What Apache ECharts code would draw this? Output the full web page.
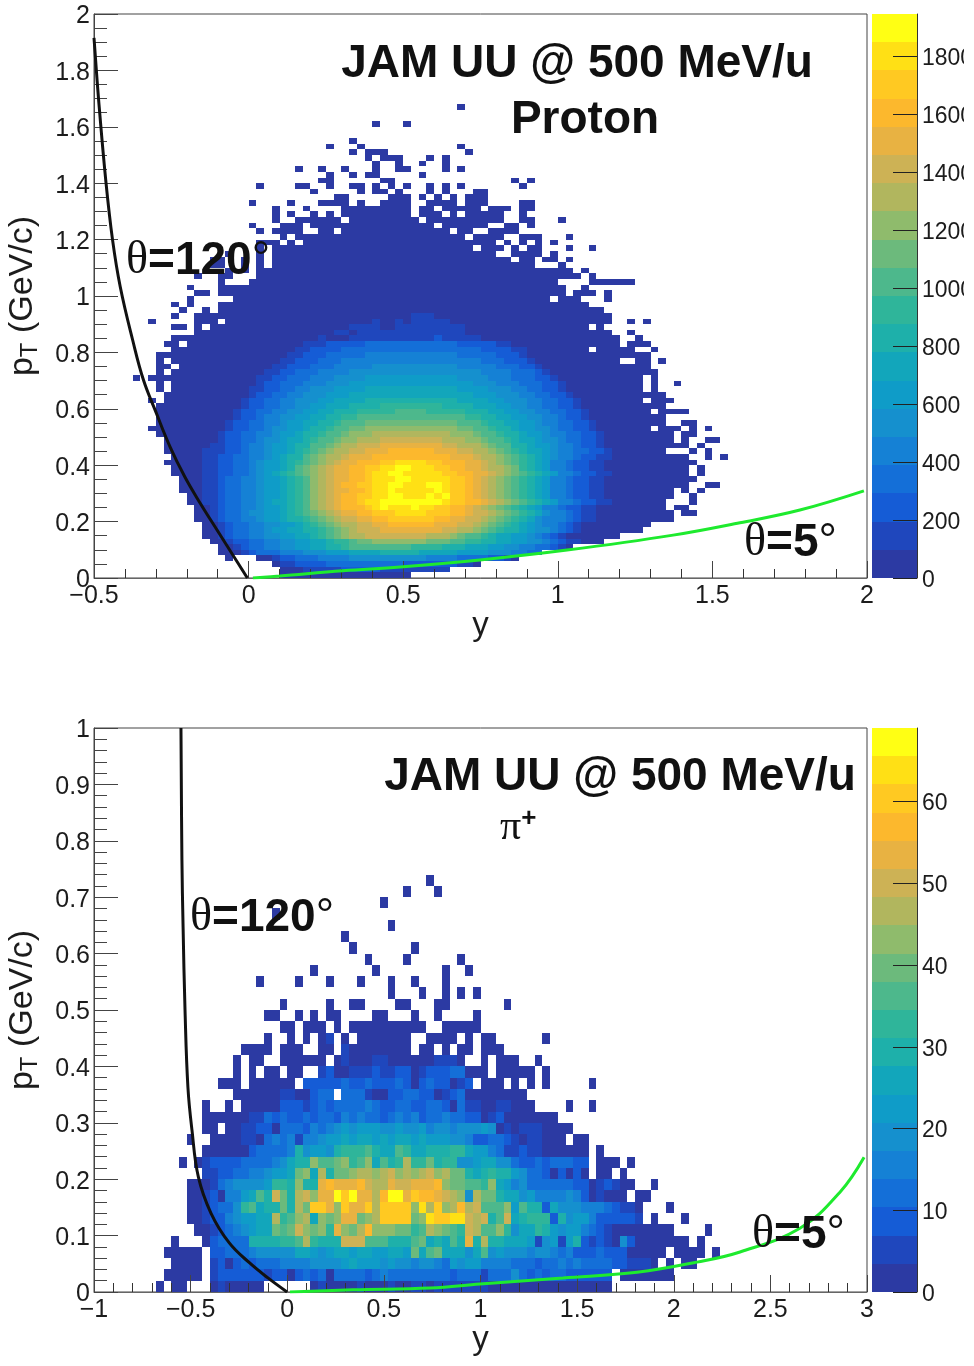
<!DOCTYPE html>
<html>
<head>
<meta charset="utf-8">
<title>JAM UU @ 500 MeV/u</title>
<script src="https://cdn.jsdelivr.net/npm/echarts@6/dist/echarts.min.js"></script>
<style>
html,body{margin:0;padding:0;background:#fff;}
#chart{width:964px;height:1366px;overflow:hidden;}
</style>
</head>
<body>
<div id="chart"></div>
<script>
// Colour bands of the z scale, lowest first (twenty contours).
const bandColors = ['#2c3aa3','#1f47bd','#155cd6','#146fd8','#1581d5','#1590ce','#0f9cc8','#12a6bb','#1eb0aa','#2fb59a',
  '#4db88c','#6cba7c','#8fbb6c','#b1b65e','#cdb255','#e8b242','#fcb82d','#ffc922','#ffe015','#ffff14'];

const protonZMax = 1945, pionZMax = 69;
const protonZTicks = [0,200,400,600,800,1000,1200,1400,1600,1800];
const pionZTicks = [0,10,20,30,40,50,60];

// One string per pT bin, lowest bin first. "a-b" = occupied bins of the lowest band,
// "c:xyz" = band numbers (base 20) of successive y bins starting at bin c.
const protonRows = [
"24-40",
"24-45 27:11111222221111111111",
"23-49 24:1122223333333333222222211",
"17 21-54 23:1223334444555555555544443333221",
"16-57 19:12333444555666777788888777776666555443321",
"16-61 18:123344556677889aaaaaaaa99998887776655443321",
"15-65 17:1223344556677899abbcccccccbbbaa998877665543211",
"14-67 16:12334455667789abcddeeeeeeeedddcbaa98776654321",
"14-70 16:12334456677889abcdeeeffffffffeeddcba98876554321",
"14-71 16:1233445566789abcddeeffggggggfffeedcba9876544321",
"13-74 15:1233445667889abcdeeffgghhhhhhggffeedcba98754443211",
"13-74 76-77 15:123345566789abcdeffgghhhiiiihhhggfeedcba9875443211",
"13-73 75-76 15:123344566789acdefggghijiiijiihhggfedcba98764432211",
"12-73 77 14:1123344567789acdefgghiijjjjjjjjihhggfedcba98764432211",
"12-74 77 14:1123344566789acdefgghhiijjiiijijhhgfedcba98764432211",
"11-74 76 78 14:1123344566789acdeffgghiijiiiiijihhgfedcba98764432211",
"11-76 79-80 14:1123344566789acdefgghhiijjiiijjihhgfedcba98764432211",
"11-77 14:1123344566789acdeffgghiiijjiiiiihhgfedcba98764432211",
"10-76 78 14:112233456789abcdeffgghiijjiiiiihhggffedcba98764432211",
"10-76 78 14:112233456678abcdeffgghhiijjiiihhggffeddcb98764432211",
"9-77 14:1122334566789abcdeffggghhiiiihhgggffedcba98764432211",
"10-76 79 81 14:1122334456788abcddefffggggggggggfffeddcba987654432211",
"9-73 77 79 14:11122344566789abcddeefffggggggfffeeddcba9877654433221",
"9-76 78 15:1122344566788aabcddeeeffffffffeedddcbaa887665443221",
"9-74 76 79-80 16:1223345567789aabccdddeeeeeeeedddccbaa9877655433221",
"8-74 76-77 16:12233445667889aabcccddddddddddcccbaa98876654433221",
"7-71 73-75 77 79 17:12233455667889aabbccccccccccccbbaa98876655433221",
"8-73 76-77 17:122334456677889aaabbbbbbbbbbbbaaa988776654433221",
"8-73 18:1223445566778899aaaaaaaaaaaaaa9988776655443221",
"8-71 73-76 18:122334455667788899999aaaa999998887766554433221",
"8-73 19:12233445566777888899999999888877766554433221",
"7 9-70 72-74 19:12233445556677778888888888887777665554433221",
"9-73 20:122334455566677777777777777776665554433221",
"8 10-70 72 20:11223344555666677777777777766665554433221",
"8 10-70 72 75 21:1223334445556666666666666666555444333221",
"5 7-70 72 21:112233344455556666666666665555444333221",
"8 10-72 22:1122333444455555555555555555444433321",
"8-9 11-71 23:11222333444445555555555544444333221",
"8 10-67 70-71 73 24:112223334444444444444444443332221",
"8-71 25:1122233333444444444444333332221",
"10-63 65-69 72 26:112222333333333333333333222211",
"9-10 12-67 69-71 27:111222223333333333332222211",
"10-67 70 29:1 33:11111111111211111",
"13-66 69 31:11 34:11111111111111",
"10-11 13 15-63 65 33:1111 39:111111111",
"7 13-15 17-66 69 71 36:1 39:1 41:11111",
"10 13-66 41:111",
"11 14 16-65",
"10 12 16-63",
"12 18-58 60-62 66",
"13-14 16-60 62-64 66",
"12 16-60 63",
"16 20-59 64-69",
"13 16-17 21-62 64",
"17 19 21-61 63",
"15-16 19 21 23-56 60",
"15-16 19 21 23-53 55-56 58-59 61",
"17 21 23-51 54-57 59",
"21 23-48 50-52 54 56-57 61 64",
"21-23 25 27-51 53 55 57 59",
"24 26-47 49-52 55-57 61",
"21 23-26 29-30 32-45 47-48 51-54",
"20 24-26 28-43 45-50 53-54 56",
"23 26-31 33-41 43-52 55-56 60",
"23 25 28 30 32-40 42-44 46 48-52 55",
"23 27 32-40 42-43 45-49 51-53 55-56",
"20 25 29-32 34 37-40 43-46 48-50 55-56",
"31-32 38-40 42 44 46 48-50",
"28 34 36-37 39 43 45 49-50",
"21 26-27 30 33-34 36 38 40 43 45 47 55",
"29-30 37-38 54 56",
"30 33 35-36 42",
"26 29 32 36 39-40 45 47",
"36 39 42 45",
"35 37-39 43 45",
"33 35-37 48",
"30 34 47",
"33",
"",
"",
"36 40",
"",
"",
"47"
];

const pionRows = [
"8 10-11 15-21 28-66 15:0100000 28:0100001000100110 44:1111111",
"9-13 15-66 68-74 15:1222222122023230333323433333333233313335323233222222",
"10-13 15-72 74 76-77 15:1202323334444555567666565545543656644443332334343333221110",
"9-13 15-73 75-78 80 15:22333455555776567767766776b7ab77757a56555455434222322200000",
"10 14-76 78 15:23333888899ad9888eeeaaa888ab787a8f8d88777615616821210520",
"13-74 79 13:0012345677babecbc9fcbdgcccbb9adcba9edaac9577986566432100000000",
"12-70 72 76 12:00122456677d9acd7cbcffbcdhhhhbcihhiiede8ae78999285664222221",
"12-70 74 12:00123359a788b8dbhhfchffhdhhhhcidhcdgdeaaac6a882755544432110",
"12-68 70-71 12:001204467a8eb8decffjhjffdgjjfhggfedc5dbb877564444542010000",
"12-69 72 12:00013455556998c88fgfffgeddfeefffgcbbaa9c764533333322012100",
"14-63 65-66 68 14:112233445667bc7d8bbcddcdecdcdecdbb8789886533202020",
"11 13-63 65-67 69 13:012222333345788caabc9ac7a89d99b89955677553223233322",
"14-63 65 14:000000233334856658999a877a977888997664311211000000",
"12 15-60 62-63 15:0000110343414456676776767767666554223321011000",
"14-15 17-61 17:00112203332434565666556556455455565010111",
"14-59 20:113232232332434332343423343322012",
"14 17 19-56 61 64 22:00222123233334322332233203110011",
"18-30 32-55 24:110023333331002233220123",
"16-18 20-25 27-48 50-52 54 56 58 64 27:2222232232223202322012",
"18 20 22-23 25-26 29-50 52-56 58 29:1200111211220122233",
"18 20-21 24-29 31-47 50 52-54 57 32:1 36:11 44:111",
"19-22 24-26 29-30 32-40 42-43 45 47-48 50-52 32:1",
"22 25 27 29-30 32 34-40 43-46 48 50-51 58 30:1",
"24-25 27-29 31 33-42 45-49",
"22-23 26 28 30-31 36-37 41 44 49",
"24 30 33-34 39-40 44-45 53",
"38 42 45 47 49",
"21 26 30 34 38 41 45",
"28 36 45 48",
"35 40 47",
"33 41",
"32",
"38",
"23",
"37",
"40 44",
"43"
];

// Kinematic limits: [y, pT].
const protonTheta120 = [[-0.5,1.915],[-0.485,1.695],[-0.462,1.411],[-0.44,1.199],[-0.415,1.032],[-0.375,0.844],[-0.34,0.702],[-0.3,0.589],[-0.254,0.465],[-0.206,0.358],[-0.157,0.266],[-0.102,0.17],[-0.05,0.08],[-0.004,0]];
const protonTheta5 = [[0.014,0],[0.1,0.007],[0.305,0.026],[0.49,0.039],[0.748,0.064],[1.03,0.099],[1.373,0.152],[1.589,0.196],[1.783,0.241],[1.99,0.309]];
const pionTheta120 = [[-0.55,1],[-0.545,0.766],[-0.539,0.647],[-0.529,0.5],[-0.514,0.363],[-0.493,0.287],[-0.46,0.204],[-0.395,0.14],[-0.3,0.087],[-0.193,0.051],[-0.1,0.025],[-0.001,0]];
const pionTheta5 = [[0.014,0],[0.34,0.004],[0.739,0.007],[0.997,0.014],[1.427,0.025],[1.81,0.035],[2.12,0.053],[2.343,0.071],[2.653,0.113],[2.86,0.177],[2.985,0.239]];

// Expands the row strings into [yLow, pTLow, count, band] cells; holes stay empty.
function decodeRows(rows, yStart, yBin, ptBin, zMax) {
  const zBand = zMax / bandColors.length, cells = [];
  rows.forEach((row, j) => {
    const occupied = new Map();
    const tokens = row.split(' ').filter(Boolean);
    tokens.filter(t => !t.includes(':')).forEach(tok => {
      const [a, b] = tok.split('-').map(Number);
      for (let c = a; c <= (b === undefined ? a : b); c++) occupied.set(c, 0);
    });
    tokens.filter(t => t.includes(':')).forEach(tok => {
      const [start, run] = tok.split(':');
      [...run].forEach((ch, i) => {
        const c = +start + i;
        if (occupied.has(c)) occupied.set(c, parseInt(ch, 20));
      });
    });
    occupied.forEach((band, c) => cells.push([yStart + c * yBin, j * ptBin, (band + 0.5) * zBand, band]));
  });
  return cells;
}

const protonCells = decodeRows(protonRows, -0.5, 0.025, 0.02, protonZMax);
const pionCells = decodeRows(pionRows, -1, 0.04, 0.02, pionZMax);

function histSeries(gridIndex, cells, dx, dy) {
  return {
    type: 'custom', xAxisIndex: gridIndex, yAxisIndex: gridIndex, data: cells, silent: true,
    encode: {x: 0, y: 1}, clip: true, z: 2,
    renderItem(params, api) {
      const a = api.coord([api.value(0), api.value(1)]);
      const b = api.coord([api.value(0) + dx, api.value(1) + dy]);
      const x0 = Math.round(a[0]), x1 = Math.round(b[0]), y0 = Math.round(b[1]), y1 = Math.round(a[1]);
      return {type: 'rect', shape: {x: x0, y: y0, width: x1 - x0, height: y1 - y0},
        style: {fill: bandColors[api.value(3)]}};
    }
  };
}

function scaleSeries(gridIndex, zMax) {
  const step = zMax / bandColors.length;
  return {
    type: 'custom', xAxisIndex: gridIndex, yAxisIndex: gridIndex, silent: true, z: 1,
    data: bandColors.map((_, i) => [i * step, (i + 1) * step, i]), encode: {y: [0, 1]},
    renderItem(params, api) {
      const a = api.coord([0, api.value(0)]), b = api.coord([1, api.value(1)]);
      const y0 = Math.round(b[1]), y1 = Math.round(a[1]);
      return {type: 'rect', shape: {x: a[0], y: y0, width: b[0] - a[0], height: y1 - y0},
        style: {fill: bandColors[api.value(2)]}};
    }
  };
}

function curve(gridIndex, pts, color) {
  return {type: 'line', xAxisIndex: gridIndex, yAxisIndex: gridIndex, data: pts, smooth: 0.4, showSymbol: false,
    silent: true, z: 5, lineStyle: {color, width: 3}};
}

const sans = '"Liberation Sans", Arial, sans-serif';
const serif = '"Liberation Serif", serif';
const inkColor = '#1c1c1c';
const minus = v => String(v).replace('-', '\u2212');
const loweredLabel = fontSize => ({
  formatter: v => `{v|${v}}`,
  rich: {v: {fontFamily: sans, fontSize, color: inkColor, padding: [5, 0, 0, 0]}}
});

function xAxis(gridIndex, min, max) {
  return {type: 'value', gridIndex, min, max, interval: 0.5, z: 3, name: 'y', nameLocation: 'middle', nameGap: 31, nameMoveOverlap: false,
    nameTextStyle: {fontFamily: sans, fontSize: 33, color: inkColor},
    axisLine: {onZero: false, lineStyle: {color: '#666', width: 1}},
    axisTick: {inside: true, length: 17, lineStyle: {color: '#444'}},
    minorTick: {show: true, splitNumber: 5, length: 9, lineStyle: {color: '#333'}},
    axisLabel: {fontFamily: sans, fontSize: 25, color: inkColor, margin: 6, formatter: minus, hideOverlap: false},
    splitLine: {show: false}, minorSplitLine: {show: false}};
}
function yAxis(gridIndex, max, interval, minor) {
  return {type: 'value', gridIndex, min: 0, max, interval, z: 3,
    name: '{p|p}{s|T}{p| (GeV/c)}', nameLocation: 'middle', nameGap: 52, nameRotate: 90, nameMoveOverlap: false,
    nameTextStyle: {rich: {
      p: {fontFamily: sans, fontSize: 34, color: inkColor},
      s: {fontFamily: sans, fontSize: 24, color: inkColor, padding: [14, 0, 0, 0]}}},
    axisLine: {onZero: false, lineStyle: {color: '#444', width: 1}},
    axisTick: {inside: true, length: 24, lineStyle: {color: '#444'}},
    minorTick: {show: true, splitNumber: minor, length: 13, lineStyle: {color: '#444'}},
    axisLabel: {margin: 4, hideOverlap: false, ...loweredLabel(25)},
    splitLine: {show: false}, minorSplitLine: {show: false}};
}
function scaleXAxis(gridIndex) {
  return {type: 'value', gridIndex, min: 0, max: 1, show: false};
}
function scaleYAxis(gridIndex, zMax, ticks) {
  return {type: 'value', gridIndex, min: 0, max: zMax, position: 'right', z: 3,
    axisLine: {show: true, onZero: false, lineStyle: {color: '#333', width: 1}},
    axisTick: {show: true, inside: true, length: 24, customValues: ticks, lineStyle: {color: '#222'}},
    axisLabel: {margin: 5, customValues: ticks, hideOverlap: false, ...loweredLabel(23)},
    splitLine: {show: false}};
}

function titleText(text, cx, cy) {
  return {type: 'text', z: 10, silent: true, style: {text, x: cx, y: cy, align: 'center', verticalAlign: 'middle',
    fontFamily: sans, fontWeight: 'bold', fontSize: 46, fill: '#111'}};
}
function thetaText(num, x, cy) {
  return {type: 'text', z: 10, silent: true, style: {text: `{t|\u03b8}{b|=${num}}{d|\u00b0}`, x, y: cy, align: 'left', verticalAlign: 'middle',
    rich: {
      t: {fontFamily: serif, fontSize: 46, fill: '#111'},
      b: {fontFamily: sans, fontWeight: 'bold', fontSize: 46, fill: '#111'},
      d: {fontFamily: sans, fontSize: 46, fill: '#111'}}}};
}

const chart = echarts.init(document.getElementById('chart'), null, {renderer: 'canvas', width: 964, height: 1366});
chart.setOption({
  animation: false,
  backgroundColor: '#fff',
  grid: [
    {left: 94, top: 14, width: 773, height: 564, show: true, borderColor: '#444', borderWidth: 1, backgroundColor: '#fff', outerBoundsMode: 'none'},
    {left: 872, top: 14, width: 45, height: 564, outerBoundsMode: 'none'},
    {left: 94, top: 728, width: 773, height: 564, show: true, borderColor: '#444', borderWidth: 1, backgroundColor: '#fff', outerBoundsMode: 'none'},
    {left: 872, top: 728, width: 45, height: 564, outerBoundsMode: 'none'}
  ],
  xAxis: [xAxis(0, -0.5, 2), scaleXAxis(1), xAxis(2, -1, 3), scaleXAxis(3)],
  yAxis: [yAxis(0, 2, 0.2, 4), scaleYAxis(1, protonZMax, protonZTicks), yAxis(2, 1, 0.1, 5), scaleYAxis(3, pionZMax, pionZTicks)],
  series: [
    histSeries(0, protonCells, 0.025, 0.02),
    curve(0, protonTheta120, '#111'),
    curve(0, protonTheta5, '#1eea2e'),
    scaleSeries(1, protonZMax),
    histSeries(2, pionCells, 0.04, 0.02),
    curve(2, pionTheta120, '#111'),
    curve(2, pionTheta5, '#1eea2e'),
    scaleSeries(3, pionZMax)
  ],
  graphic: [
    titleText('JAM UU @ 500 MeV/u', 577, 64),
    titleText('Proton', 585, 120),
    titleText('JAM UU @ 500 MeV/u', 620, 777),
    {type: 'text', z: 10, silent: true, style: {text: '{p|\u03c0}{s|+}', x: 500, y: 828, align: 'left', verticalAlign: 'middle',
      rich: {p: {fontFamily: serif, fontSize: 42, fill: '#111'}, s: {fontFamily: sans, fontWeight: 'bold', fontSize: 26, fill: '#111', padding: [0, 0, 18, 0]}}}},
    thetaText('120', 126, 261),
    thetaText('5', 744, 543),
    thetaText('120', 190, 918),
    thetaText('5', 752, 1235)
  ]
});
</script>
</body>
</html>
